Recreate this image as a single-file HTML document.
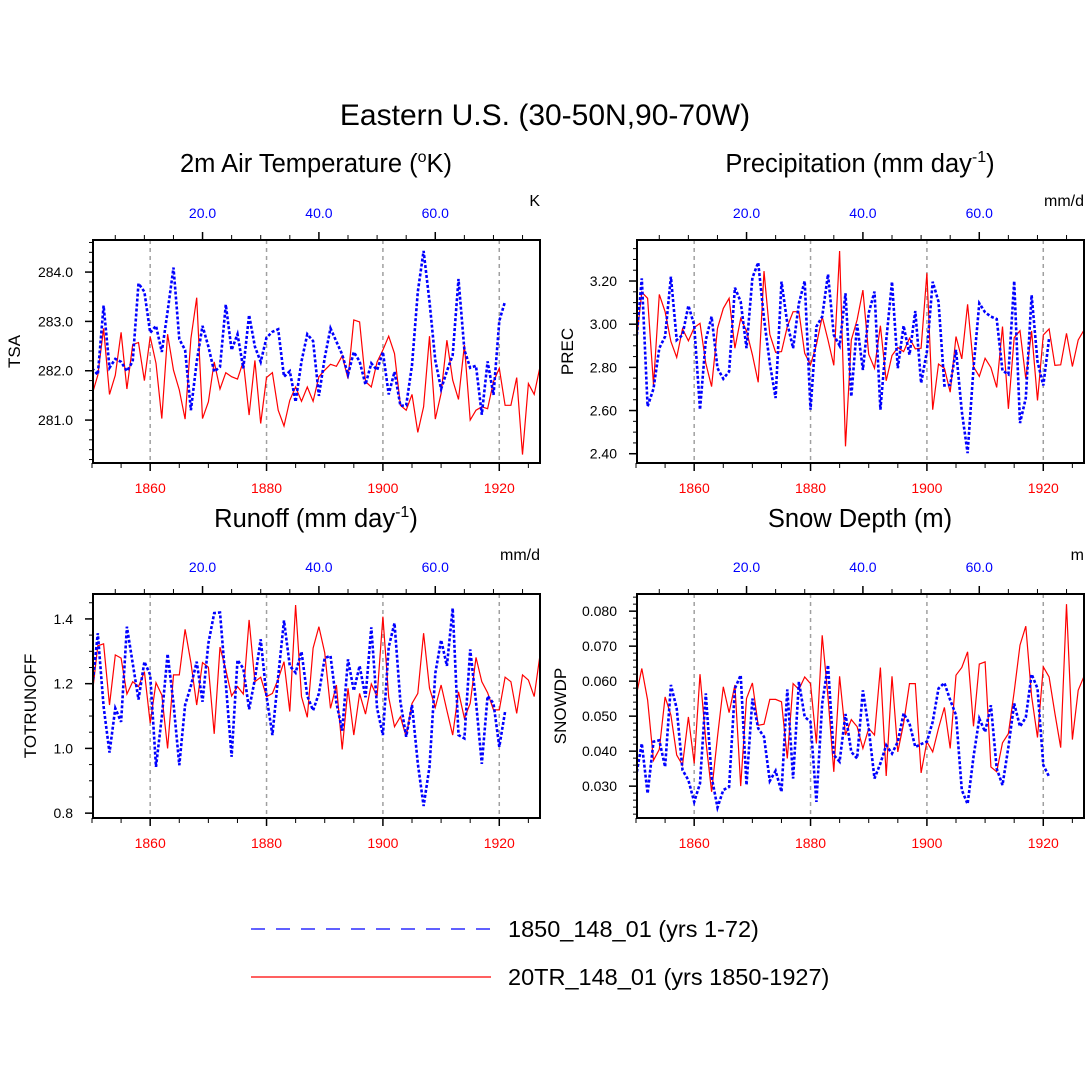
<!DOCTYPE html>
<html><head><meta charset="utf-8">
<style>
html,body{margin:0;padding:0;background:#fff;}
svg{display:block;font-family:"Liberation Sans",sans-serif;}
</style></head>
<body>
<svg id="chart" width="1090" height="1090" viewBox="0 0 1090 1090" xmlns="http://www.w3.org/2000/svg">
<text x="545" y="125" font-size="30" text-anchor="middle">Eastern U.S. (30-50N,90-70W)</text>
<text x="316" y="172" font-size="25.5" text-anchor="middle">2m Air Temperature (<tspan font-size="16" dy="-10">o</tspan><tspan dy="10">K)</tspan></text>
<text x="860" y="172" font-size="25.5" text-anchor="middle">Precipitation (mm day<tspan font-size="16" dy="-10">-1</tspan><tspan dy="10">)</tspan></text>
<text x="316" y="527" font-size="25.5" text-anchor="middle">Runoff (mm day<tspan font-size="16" dy="-10">-1</tspan><tspan dy="10">)</tspan></text>
<text x="860" y="527" font-size="25.5" text-anchor="middle">Snow Depth (m)</text>
<g id="panels"></g>
<line x1="251" y1="929" x2="491" y2="929" stroke="#0000ff" stroke-width="1.2" stroke-dasharray="14,11"/>
<text x="508" y="937" font-size="23.5">1850_148_01 (yrs 1-72)</text>
<line x1="251" y1="977" x2="491" y2="977" stroke="#ff0000" stroke-width="1.2"/>
<text x="508" y="985" font-size="23.5">20TR_148_01 (yrs 1850-1927)</text>
</svg>
<script>
const years = [];
for (let y = 1850; y <= 1927; y++) years.push(y);
const bottomTicks = [1860, 1880, 1900, 1920];
const topTicks = [20, 40, 60];

const tsaRed = [281.51,281.91,282.86,281.52,281.91,282.78,281.63,282.53,282.57,281.80,282.69,282.15,281.03,282.74,282.01,281.61,281.02,282.65,283.48,281.03,281.37,282.18,281.63,281.96,281.88,281.83,282.19,281.10,282.21,280.93,281.86,281.96,281.20,280.88,281.40,281.67,281.38,281.67,281.38,281.88,282.01,282.13,282.09,282.30,281.84,283.03,282.99,281.78,281.67,282.18,282.42,282.70,282.35,281.30,281.20,281.52,280.75,281.27,282.70,281.02,281.54,282.62,281.81,281.42,282.52,281.00,281.20,281.27,281.23,281.78,282.05,281.30,281.30,281.86,280.30,281.74,281.52,282.08];
const tsaBlue = [282.05,281.92,283.32,282.06,282.24,282.18,281.99,282.19,283.77,283.60,282.77,282.91,282.38,283.20,284.09,282.64,282.42,281.20,282.18,282.91,282.49,281.98,282.08,283.34,282.42,282.74,282.05,283.13,282.49,282.18,282.67,282.79,282.84,281.88,281.99,281.37,282.19,282.74,282.60,281.49,282.26,282.86,282.59,282.33,281.92,282.38,282.19,281.72,282.15,282.01,282.38,281.52,281.98,281.29,281.30,282.11,283.60,284.43,283.40,282.21,281.63,281.99,282.32,283.86,282.42,282.06,282.10,281.11,282.19,281.51,283.01,283.41];
const precRed = [2.904,3.148,3.120,2.719,3.138,3.058,2.920,2.846,2.978,2.923,2.984,3.004,2.819,2.711,2.981,3.073,3.120,2.889,3.027,2.969,2.858,2.731,3.246,2.953,2.870,2.873,2.989,3.058,3.058,2.865,2.812,2.904,3.035,2.927,2.809,3.339,2.434,2.927,3.020,3.158,2.861,2.796,2.993,2.738,2.855,2.892,2.873,2.935,2.886,2.889,3.236,2.604,2.815,2.796,2.685,2.943,2.839,3.092,2.804,2.758,2.842,2.799,2.707,2.989,2.608,2.938,2.970,2.747,2.969,2.647,2.950,2.978,2.809,2.812,2.958,2.804,2.927,2.973];
const precBlue = [2.904,3.212,2.619,2.701,2.889,2.943,3.220,2.927,2.950,3.086,2.997,2.604,2.927,3.035,2.796,2.747,2.781,3.169,3.104,2.889,3.215,3.286,3.027,2.819,2.658,3.197,3.004,2.889,3.097,3.200,2.604,2.989,3.035,3.231,2.950,2.901,3.143,2.665,3.000,2.788,3.051,3.151,2.604,2.923,3.197,2.796,2.993,2.858,3.061,2.727,2.873,3.197,3.104,2.716,2.719,2.881,2.596,2.403,2.796,3.097,3.055,3.035,3.024,2.784,2.768,3.200,2.542,2.658,3.135,2.827,2.716,2.935];
const runRed = [1.160,1.317,1.323,1.134,1.289,1.279,1.168,1.206,1.191,1.237,1.078,1.203,1.165,1.000,1.227,1.227,1.368,1.265,1.134,1.265,1.251,1.045,1.313,1.243,1.162,1.191,1.168,1.397,1.206,1.220,1.160,1.170,1.214,1.268,1.114,1.443,1.160,1.096,1.310,1.376,1.296,1.124,1.196,0.997,1.186,1.041,1.170,1.106,1.199,1.160,1.407,1.158,1.067,1.098,1.036,1.139,1.170,1.356,1.186,1.127,1.196,1.117,1.041,1.175,1.093,1.139,1.281,1.206,1.172,1.119,1.119,1.220,1.206,1.108,1.227,1.211,1.160,1.289];
const runBlue = [1.181,1.356,1.129,0.987,1.124,1.082,1.376,1.263,1.151,1.268,1.227,0.943,1.098,1.292,1.139,0.948,1.134,1.193,1.268,1.144,1.325,1.418,1.420,1.201,0.974,1.273,1.247,1.121,1.214,1.337,1.162,1.041,1.222,1.395,1.255,1.234,1.299,1.162,1.117,1.170,1.279,1.286,1.141,1.055,1.275,1.178,1.255,1.158,1.374,1.124,1.041,1.313,1.387,1.144,1.036,1.134,0.954,0.822,0.943,1.232,1.335,1.255,1.433,1.041,1.031,1.306,1.144,0.952,1.162,1.139,1.005,1.114];
const snowRed = [0.0555,0.0636,0.0546,0.0374,0.0405,0.0555,0.0503,0.0389,0.0360,0.0498,0.0365,0.0620,0.0431,0.0284,0.0441,0.0584,0.0510,0.0589,0.0300,0.0550,0.0595,0.0474,0.0477,0.0548,0.0548,0.0541,0.0379,0.0593,0.0576,0.0612,0.0593,0.0422,0.0731,0.0555,0.0341,0.0614,0.0446,0.0490,0.0470,0.0408,0.0465,0.0446,0.0639,0.0329,0.0614,0.0398,0.0479,0.0593,0.0593,0.0338,0.0427,0.0398,0.0465,0.0525,0.0408,0.0617,0.0639,0.0684,0.0471,0.0649,0.0655,0.0355,0.0341,0.0424,0.0450,0.0570,0.0703,0.0757,0.0557,0.0439,0.0641,0.0612,0.0508,0.0410,0.0820,0.0433,0.0574,0.0614];
const snowBlue = [0.0327,0.0422,0.0279,0.0427,0.0431,0.0355,0.0589,0.0522,0.0346,0.0317,0.0255,0.0308,0.0565,0.0327,0.0239,0.0289,0.0298,0.0579,0.0617,0.0303,0.0550,0.0465,0.0441,0.0315,0.0344,0.0284,0.0576,0.0322,0.0598,0.0498,0.0484,0.0255,0.0536,0.0646,0.0389,0.0370,0.0506,0.0398,0.0379,0.0574,0.0465,0.0322,0.0365,0.0417,0.0393,0.0427,0.0508,0.0479,0.0412,0.0420,0.0427,0.0484,0.0579,0.0595,0.0546,0.0503,0.0289,0.0249,0.0384,0.0493,0.0455,0.0531,0.0350,0.0303,0.0412,0.0536,0.0470,0.0496,0.0620,0.0579,0.0360,0.0327];

const tsaTicks = [281, 282, 283, 284];
const precTicks = [2.4, 2.6, 2.8, 3.0, 3.2];
const runTicks = [0.8, 1.0, 1.2, 1.4];
const snowTicks = [0.03, 0.04, 0.05, 0.06, 0.07, 0.08];

const NS = "http://www.w3.org/2000/svg";
const root = document.getElementById('panels');
function mk(tag, attrs, parent) {
  const e = document.createElementNS(NS, tag);
  for (const k in attrs) e.setAttribute(k, attrs[k]);
  (parent || root).appendChild(e);
  return e;
}

const panels = [
  {id:'tsa', x0:93, x1:540, y0:240, y1:463, ymin:280.13, ymax:284.65, ticks:tsaTicks, dec:1, minor:0.2, red:tsaRed, blue:tsaBlue, title:'TSA', tx:14, unit:'K', ux:540},
  {id:'prec', x0:637, x1:1084, y0:240, y1:463, ymin:2.357, ymax:3.39, ticks:precTicks, dec:2, minor:0.05, red:precRed, blue:precBlue, title:'PREC', tx:567, unit:'mm/d', ux:1084},
  {id:'runoff', x0:93, x1:540, y0:594, y1:818, ymin:0.785, ymax:1.477, ticks:runTicks, dec:1, minor:0.05, red:runRed, blue:runBlue, title:'TOTRUNOFF', tx:30, unit:'mm/d', ux:540},
  {id:'snow', x0:637, x1:1084, y0:594, y1:818, ymin:0.0209, ymax:0.0849, ticks:snowTicks, dec:3, minor:0.002, red:snowRed, blue:snowBlue, title:'SNOWDP', tx:560, unit:'m', ux:1084}
];

panels.forEach(p => {
  const g = mk('g', {});
  
  
  const xs = yr => (p.x0 - 1) + (yr - 1850) * (p.x1 - p.x0 + 1) / 77;
  const xt = i => xs(1849 + i);
  const ys = v => p.y1 - (v - p.ymin) / (p.ymax - p.ymin) * (p.y1 - p.y0);

  const cid = 'clip-' + p.id;
  const defs = mk('defs', {}, g);
  const cp = mk('clipPath', {id: cid}, defs);
  mk('rect', {x: p.x0, y: p.y0, width: p.x1 - p.x0, height: p.y1 - p.y0}, cp);

  bottomTicks.forEach(t => {
    const l = mk('line', {x1: xs(t), x2: xs(t), y1: p.y0, y2: p.y1, stroke: '#a0a0a0', 'stroke-width': 1.5, 'stroke-dasharray': '4,4'}, g);
    
    
  });

  for (let yr = 1850; yr <= 1925; yr += 5) {
    const major = bottomTicks.includes(yr);
    mk('line', {x1: xs(yr), x2: xs(yr), y1: p.y1, y2: p.y1 + (major ? 8 : 5), stroke: '#000', 'stroke-width': major ? 1.5 : 1}, g);
  }
  bottomTicks.forEach(t => {
    const tx = mk('text', {x: xs(t), y: p.y1 + 30, 'font-size': 14, fill: '#ff0000', 'text-anchor': 'middle'}, g);
    tx.textContent = t;
    
    
  });
  for (let i = 5; i <= 75; i += 5) {
    const major = topTicks.includes(i);
    mk('line', {x1: xt(i), x2: xt(i), y1: p.y0, y2: p.y0 - (major ? 8 : 5), stroke: '#000', 'stroke-width': major ? 1.5 : 1}, g);
  }
  topTicks.forEach(t => {
    const tx = mk('text', {x: xt(t), y: p.y0 - 22, 'font-size': 14, fill: '#0000ff', 'text-anchor': 'middle'}, g);
    tx.textContent = t.toFixed(1);
    
    
  });
  const start = Math.ceil(p.ymin / p.minor);
  for (let k = start; k * p.minor <= p.ymax; k++) {
    const v = k * p.minor;
    mk('line', {x1: p.x0, x2: p.x0 - 4, y1: ys(v), y2: ys(v), stroke: '#000', 'stroke-width': 1}, g);
  }
  p.ticks.forEach(t => {
    mk('line', {x1: p.x0, x2: p.x0 - 8, y1: ys(t), y2: ys(t), stroke: '#000', 'stroke-width': 1.5}, g);
    const tx = mk('text', {x: p.x0 - 20, y: ys(t) + 5, 'font-size': 14, 'text-anchor': 'end'}, g);
    tx.textContent = t.toFixed(p.dec);
    
    
  });
  const cy = (p.y0 + p.y1) / 2;
  const yt = mk('text', {x: p.tx, y: cy, 'font-size': 17, 'text-anchor': 'middle', transform: 'rotate(-90 ' + p.tx + ' ' + cy + ')', dy: 6}, g);
  yt.textContent = p.title;
  
  
  const ut = mk('text', {x: p.ux, y: p.y0 - 34, 'font-size': 16, 'text-anchor': 'end'}, g);
  ut.textContent = p.unit;
  
  

  const redPts = p.red.map((v, i) => xs(years[i]).toFixed(1) + ',' + ys(v).toFixed(1)).join(' ');
  const red = mk('polyline', {points: redPts, fill: 'none', stroke: '#ff0000', 'stroke-width': 1.2, 'clip-path': 'url(#' + cid + ')'}, g);
  
  
  const bluePts = p.blue.map((v, i) => xt(i + 1).toFixed(1) + ',' + ys(v).toFixed(1)).join(' ');
  const blue = mk('polyline', {points: bluePts, fill: 'none', stroke: '#0000ff', 'stroke-width': 2.6, 'stroke-dasharray': '3,2', 'clip-path': 'url(#' + cid + ')'}, g);
  
  

  const box = mk('rect', {x: p.x0, y: p.y0, width: p.x1 - p.x0, height: p.y1 - p.y0, fill: 'none', stroke: '#000', 'stroke-width': 2}, g);
  
  
});
</script>
</body></html>
